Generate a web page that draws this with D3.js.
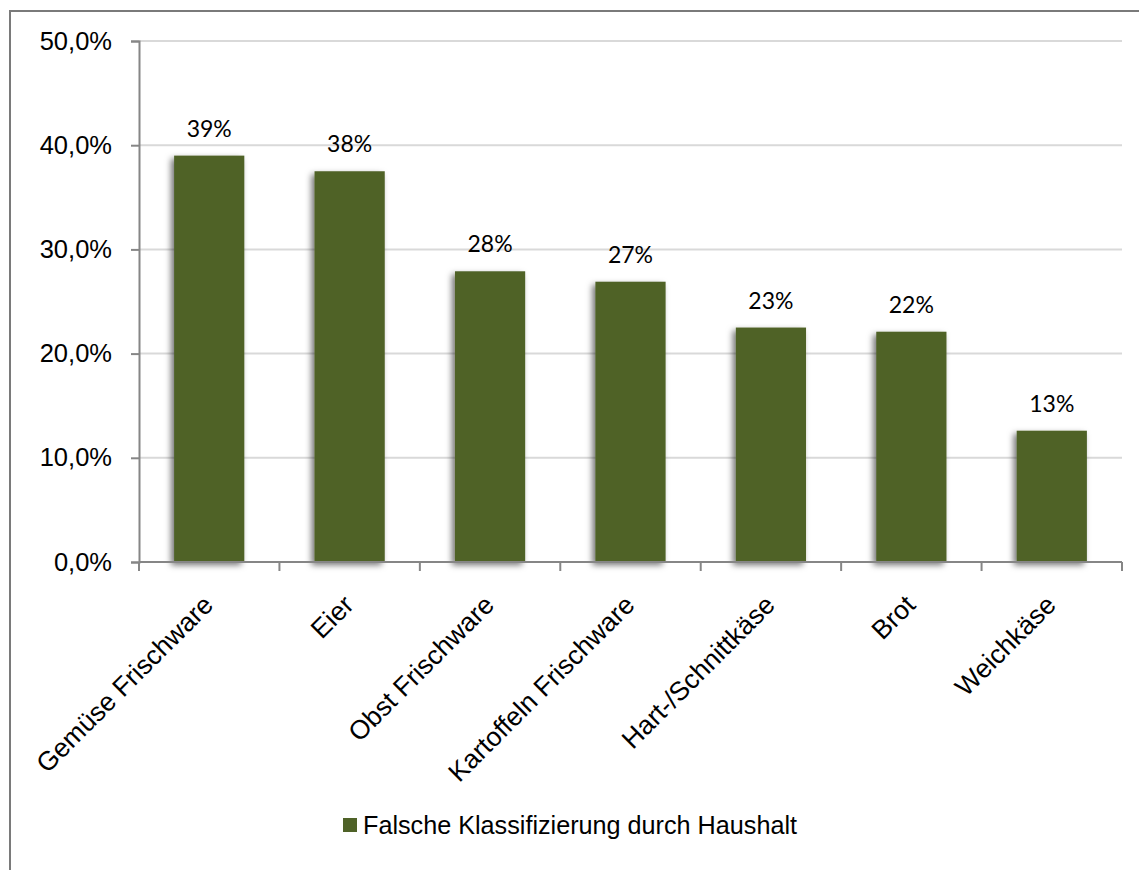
<!DOCTYPE html>
<html>
<head>
<meta charset="utf-8">
<script src="https://cdn.jsdelivr.net/npm/d3@7/dist/d3.min.js"></script>
<style>
  html, body { margin: 0; padding: 0; background: #fff; }
  svg { display: block; }
</style>
</head>
<body>
<div id="chart"></div>
<script>
// Share of items wrongly classified by households, per product group
const categories = ["Gemüse Frischware", "Eier", "Obst Frischware", "Kartoffeln Frischware", "Hart-/Schnittkäse", "Brot", "Weichkäse"];
const values = [0.390, 0.375, 0.279, 0.269, 0.225, 0.221, 0.126];
const valueLabels = ["39%", "38%", "28%", "27%", "23%", "22%", "13%"];
const yTicks = [0, 0.1, 0.2, 0.3, 0.4, 0.5];
const seriesName = "Falsche Klassifizierung durch Haushalt";

const W = 1139, H = 870;
const margin = { left: 139, right: 17, top: 41, bottom: 308 };
const barColor = "#4F6228";

const svg = d3.select("#chart").append("svg")
  .attr("width", W).attr("height", H);

const defs = svg.append("defs");
const shadow = defs.append("filter").attr("id", "barShadow")
  .attr("x", "-30%").attr("y", "-10%").attr("width", "160%").attr("height", "130%");
shadow.append("feDropShadow")
  .attr("dx", -3).attr("dy", 3).attr("stdDeviation", 3)
  .attr("flood-color", "#000").attr("flood-opacity", 0.55);

// outer chart frame (extends past the right and bottom edges)
svg.append("path")
  .attr("d", `M10,${H + 5} L10,11 L${W + 5},11`)
  .attr("fill", "none").attr("stroke", "#7a7a7a").attr("stroke-width", 2);

const x = d3.scaleBand()
  .domain(categories)
  .range([margin.left, W - margin.right])
  .paddingInner(0.5).paddingOuter(0.25);

const y = d3.scaleLinear()
  .domain([0, 0.5])
  .range([H - margin.bottom, margin.top]);

const fmtAxis = v => d3.format(".1f")(v * 100).replace(".", ",") + "%";

// horizontal gridlines
svg.append("g")
  .selectAll("line").data(yTicks.filter(d => d > 0)).join("line")
  .attr("x1", margin.left).attr("x2", W - margin.right)
  .attr("y1", d => y(d)).attr("y2", d => y(d))
  .attr("stroke", "#d9d9d9").attr("stroke-width", 2);

// bars
svg.append("g")
  .selectAll("rect").data(values).join("rect")
  .attr("x", (d, i) => x(categories[i]))
  .attr("width", x.bandwidth())
  .attr("y", d => y(d))
  .attr("height", d => y(0) - y(d))
  .attr("fill", barColor)
  .attr("filter", "url(#barShadow)");

// value labels above the bars
svg.append("g")
  .selectAll("text").data(values).join("text")
  .attr("x", (d, i) => x(categories[i]) + x.bandwidth() / 2)
  .attr("y", d => y(d) - 19)
  .attr("text-anchor", "middle")
  .attr("font-family", "Lato, 'Open Sans', sans-serif")
  .attr("font-size", 23)
  .attr("fill", "#000")
  .text((d, i) => valueLabels[i]);

// y axis
const yAxis = svg.append("g")
  .attr("transform", `translate(${margin.left},0)`)
  .call(d3.axisLeft(y).tickValues(yTicks).tickFormat(fmtAxis).tickSize(8).tickPadding(19));
yAxis.select(".domain").attr("stroke", "#868686").attr("stroke-width", 2);
yAxis.selectAll(".tick line").attr("stroke", "#868686").attr("stroke-width", 2);
yAxis.selectAll(".tick text")
  .attr("font-family", "'Liberation Sans', Arial, sans-serif")
  .attr("font-size", 25.5).attr("fill", "#000");

// x axis with ticks at band boundaries
const xBase = y(0);
const boundaries = d3.range(categories.length + 1).map(i => margin.left + i * (W - margin.right - margin.left) / categories.length);
const xAxis = svg.append("g");
xAxis.append("line")
  .attr("x1", margin.left).attr("x2", W - margin.right)
  .attr("y1", xBase).attr("y2", xBase)
  .attr("stroke", "#868686").attr("stroke-width", 2);
xAxis.selectAll("line.tk").data(boundaries).join("line")
  .attr("class", "tk")
  .attr("x1", d => d).attr("x2", d => d)
  .attr("y1", xBase).attr("y2", xBase + 9)
  .attr("stroke", "#868686").attr("stroke-width", 2);

// rotated category labels
xAxis.selectAll("text").data(categories).join("text")
  .attr("transform", d => `translate(${x(d) + x.bandwidth() / 2 - 1},${xBase + 38}) rotate(-45)`)
  .attr("text-anchor", "end")
  .attr("dy", "0.35em")
  .attr("font-family", "'Liberation Sans', Arial, sans-serif")
  .attr("font-size", 26.5)
  .attr("fill", "#000")
  .text(d => d);

// legend
const legend = svg.append("g").attr("transform", "translate(343,818)");
legend.append("rect")
  .attr("width", 14).attr("height", 14)
  .attr("fill", barColor);
legend.append("text")
  .attr("x", 20).attr("y", 7).attr("dy", "0.35em")
  .attr("font-family", "'Liberation Sans', Arial, sans-serif")
  .attr("font-size", 25.2)
  .attr("fill", "#000")
  .text(seriesName);
</script>
</body>
</html>
